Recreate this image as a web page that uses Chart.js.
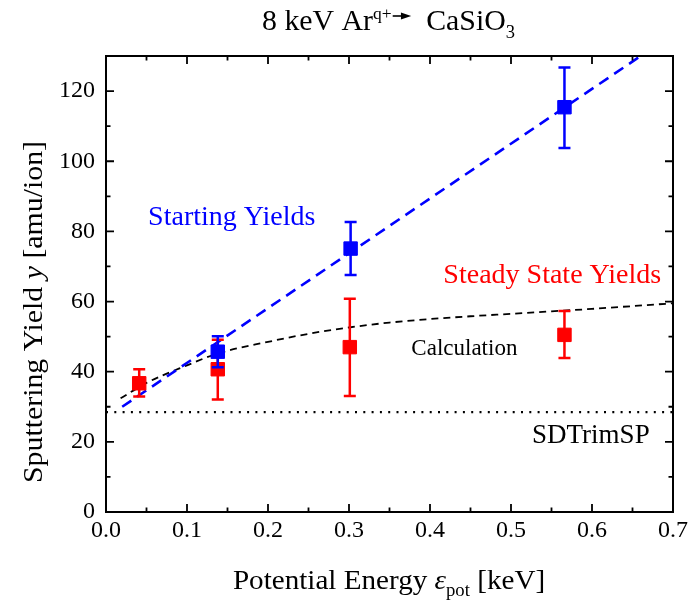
<!DOCTYPE html>
<html><head><meta charset="utf-8">
<script src="https://cdn.jsdelivr.net/npm/chart.js@4.4.0/dist/chart.umd.min.js"></script>
<style>html,body{margin:0;padding:0;background:#fff}#wrap{width:689px;height:605px}</style>
</head><body><div id="wrap"><canvas id="c" width="689" height="605"></canvas></div>
<script>
// ---- data ----
const startX  = [0.138, 0.302, 0.566];
const startY  = [45.7, 75.1, 115.4];
const startLo = [41.3, 67.6, 103.8];
const startHi = [50.1, 82.7, 126.7];

const steadyX  = [0.041, 0.138, 0.301, 0.566];
const steadyY  = [36.7, 40.7, 47.0, 50.5];
const steadyLo = [32.9, 32.1, 33.1, 43.9];
const steadyHi = [40.7, 49.1, 60.8, 57.3];

const fitX = [0.02, 0.66];
const fitY = [30.0, 130.0];

const calcX = [0.018, 0.05, 0.1, 0.138, 0.2, 0.25, 0.3, 0.35, 0.4, 0.45, 0.5, 0.55, 0.6, 0.65, 0.7];
const calcY = [32.4, 36.8, 41.8, 45.2, 48.5, 50.8, 52.6, 54.0, 55.0, 55.8, 56.5, 57.2, 57.9, 58.7, 59.5];

const sdX = [0, 0.7];
const sdY = [28.5, 28.5];

const xTicks = [0, 0.1, 0.2, 0.3, 0.4, 0.5, 0.6, 0.7];
const xMinor = [0.05, 0.15, 0.25, 0.35, 0.45, 0.55, 0.65];
const yTicks = [0, 20, 40, 60, 80, 100, 120];
const yMinor = [10, 30, 50, 70, 90, 110];

const SERIF = '"Liberation Serif", "Times New Roman", serif';
const pts = (xs, ys) => xs.map((x, i) => ({x, y: ys[i]}));

const errorBars = {
  id: 'errorBars',
  beforeDatasetDraw(chart, args) {
    const ds = chart.data.datasets[args.index];
    if (!ds.errLo) return;
    const {ctx, scales: {x, y}} = chart;
    ctx.save();
    ctx.strokeStyle = ds.borderColor;
    ctx.lineWidth = 2.5;
    ds.data.forEach((p, i) => {
      const px = x.getPixelForValue(p.x);
      const y1 = y.getPixelForValue(ds.errLo[i]);
      const y2 = y.getPixelForValue(ds.errHi[i]);
      ctx.beginPath();
      ctx.moveTo(px, y1); ctx.lineTo(px, y2);
      ctx.moveTo(px - 6, y1); ctx.lineTo(px + 6, y1);
      ctx.moveTo(px - 6, y2); ctx.lineTo(px + 6, y2);
      ctx.stroke();
    });
    ctx.restore();
  }
};

function drawRuns(ctx, runs, x, base) {
  runs.forEach(r => {
    ctx.font = r.font;
    if (r.arrow) {
      ctx.save();
      ctx.lineWidth = 1.6;
      ctx.beginPath();
      ctx.moveTo(x + 1, base + r.dy); ctx.lineTo(x + r.w - 6, base + r.dy); ctx.stroke();
      ctx.beginPath();
      ctx.moveTo(x + r.w, base + r.dy);
      ctx.lineTo(x + r.w - 10, base + r.dy - 3.5);
      ctx.lineTo(x + r.w - 10, base + r.dy + 3.5);
      ctx.closePath(); ctx.fill();
      ctx.restore();
      x += r.w;
    } else {
      ctx.fillText(r.text, x, base + (r.dy || 0));
      x += ctx.measureText(r.text).width;
    }
  });
  return x;
}
function runsWidth(ctx, runs) {
  let w = 0;
  runs.forEach(r => { if (r.arrow) w += r.w; else { ctx.font = r.font; w += ctx.measureText(r.text).width; } });
  return w;
}

const decor = {
  id: 'decor',
  afterDraw(chart) {
    const {ctx, chartArea: a, scales: {x, y}} = chart;
    ctx.save();
    ctx.strokeStyle = '#000'; ctx.fillStyle = '#000';
    // ticks (inward, all four sides)
    ctx.lineWidth = 1.8;
    ctx.beginPath();
    const tx = (vals, len) => vals.forEach(v => {
      const p = x.getPixelForValue(v);
      ctx.moveTo(p, a.bottom); ctx.lineTo(p, a.bottom - len);
      ctx.moveTo(p, a.top); ctx.lineTo(p, a.top + len);
    });
    const ty = (vals, len) => vals.forEach(v => {
      const p = y.getPixelForValue(v);
      ctx.moveTo(a.left, p); ctx.lineTo(a.left + len, p);
      ctx.moveTo(a.right, p); ctx.lineTo(a.right - len, p);
    });
    tx(xTicks, 8); tx(xMinor, 4.5); ty(yTicks, 8); ty(yMinor, 4.5);
    ctx.stroke();
    // frame
    ctx.lineWidth = 2;
    ctx.strokeRect(a.left, a.top, a.right - a.left, a.bottom - a.top);

    ctx.textBaseline = 'alphabetic';
    ctx.textAlign = 'left';
    // main title
    const title = [
      {text: '8 keV Ar', font: `29px ${SERIF}`},
      {text: 'q+', font: `17px ${SERIF}`, dy: -11},
      {arrow: true, w: 19, dy: -14, font: `29px ${SERIF}`},
      {text: '  CaSiO', font: `29px ${SERIF}`},
      {text: '3', font: `18px ${SERIF}`, dy: 8}
    ];
    const tw = runsWidth(ctx, title);
    ctx.save();
    ctx.translate(262, 30);
    ctx.scale(253 / tw, 1);
    drawRuns(ctx, title, 0, 0);
    ctx.restore();

    // x axis title
    const F = 28;
    const xt = [
      {text: 'Potential Energy ', font: `${F}px ${SERIF}`},
      {text: 'ε', font: `italic ${F}px ${SERIF}`},
      {text: 'pot', font: `18px ${SERIF}`, dy: 7},
      {text: ' [keV]', font: `${F}px ${SERIF}`}
    ];
    const xw = runsWidth(ctx, xt);
    ctx.save();
    ctx.translate(389, 589);
    ctx.scale(1.04, 1);
    drawRuns(ctx, xt, -xw / 2, 0);
    ctx.restore();

    // y axis title
    const yt = [
      {text: 'Sputtering Yield ', font: `${F}px ${SERIF}`},
      {text: 'y', font: `italic ${F}px ${SERIF}`},
      {text: ' [amu/ion]', font: `${F}px ${SERIF}`}
    ];
    const yw = runsWidth(ctx, yt);
    ctx.save();
    ctx.translate(42, 312);
    ctx.rotate(-Math.PI / 2);
    ctx.scale(342 / yw, 1);
    drawRuns(ctx, yt, -yw / 2, 0);
    ctx.restore();

    // annotations (placed in data coordinates)
    const ann = (txt, vx, vy, color, size) => {
      ctx.font = `${size}px ${SERIF}`;
      ctx.fillStyle = color;
      ctx.fillText(txt, x.getPixelForValue(vx), y.getPixelForValue(vy));
    };
    ann('Starting Yields', 0.052, 81.9, '#0000ff', 28);
    ann('Steady State Yields', 0.4165, 65.3, '#ff0000', 28);
    ann('Calculation', 0.377, 44.8, '#000', 23);
    ann('SDTrimSP', 0.526, 19.7, '#000', 27);
    ctx.restore();
  }
};

new Chart(document.getElementById('c'), {
  type: 'scatter',
  data: {
    datasets: [
      {label: 'Starting Yields', data: pts(startX, startY), errLo: startLo, errHi: startHi,
       borderColor: '#0000ff', backgroundColor: '#0000ff', pointStyle: 'rect', pointRadius: 9.5, showLine: false},
      {label: 'Steady State Yields', data: pts(steadyX, steadyY), errLo: steadyLo, errHi: steadyHi,
       borderColor: '#ff0000', backgroundColor: '#ff0000', pointStyle: 'rect', pointRadius: 9.5, showLine: false},
      {label: 'fit', data: pts(fitX, fitY), showLine: true, pointRadius: 0, borderColor: '#0000ff',
       borderWidth: 2.6, borderDash: [11, 7]},
      {label: 'Calculation', data: pts(calcX, calcY), showLine: true, pointRadius: 0, borderColor: '#000',
       borderWidth: 1.8, borderDash: [7, 5], tension: 0.4, cubicInterpolationMode: 'monotone'},
      {label: 'SDTrimSP', data: pts(sdX, sdY), showLine: true, pointRadius: 0, borderColor: '#000',
       borderWidth: 2.2, borderDash: [2, 6.3]}
    ]
  },
  options: {
    responsive: false,
    animation: false,
    devicePixelRatio: 1,
    layout: {padding: {top: 56, right: 16, left: 0, bottom: 0}},
    plugins: {legend: {display: false}, tooltip: {enabled: false}, title: {display: false}},
    scales: {
      x: {
        type: 'linear', min: 0, max: 0.7,
        grid: {display: false, drawTicks: false}, border: {display: false},
        ticks: {font: {family: SERIF, size: 24}, color: '#000', padding: 4,
                callback: v => Number(v).toFixed(1), maxRotation: 0, autoSkip: false},
        afterBuildTicks: s => { s.ticks = xTicks.map(v => ({value: v})); },
        afterFit: s => { s.height = 93; s.paddingLeft = 0; s.paddingRight = 0; }
      },
      y: {
        type: 'linear', min: 0, max: 130,
        grid: {display: false, drawTicks: false}, border: {display: false},
        ticks: {font: {family: SERIF, size: 24}, color: '#000', padding: 11, autoSkip: false},
        afterBuildTicks: s => { s.ticks = yTicks.map(v => ({value: v})); },
        afterFit: s => { s.width = 106; s.paddingTop = 0; s.paddingBottom = 0; }
      }
    }
  },
  plugins: [errorBars, decor]
});
</script></body></html>
